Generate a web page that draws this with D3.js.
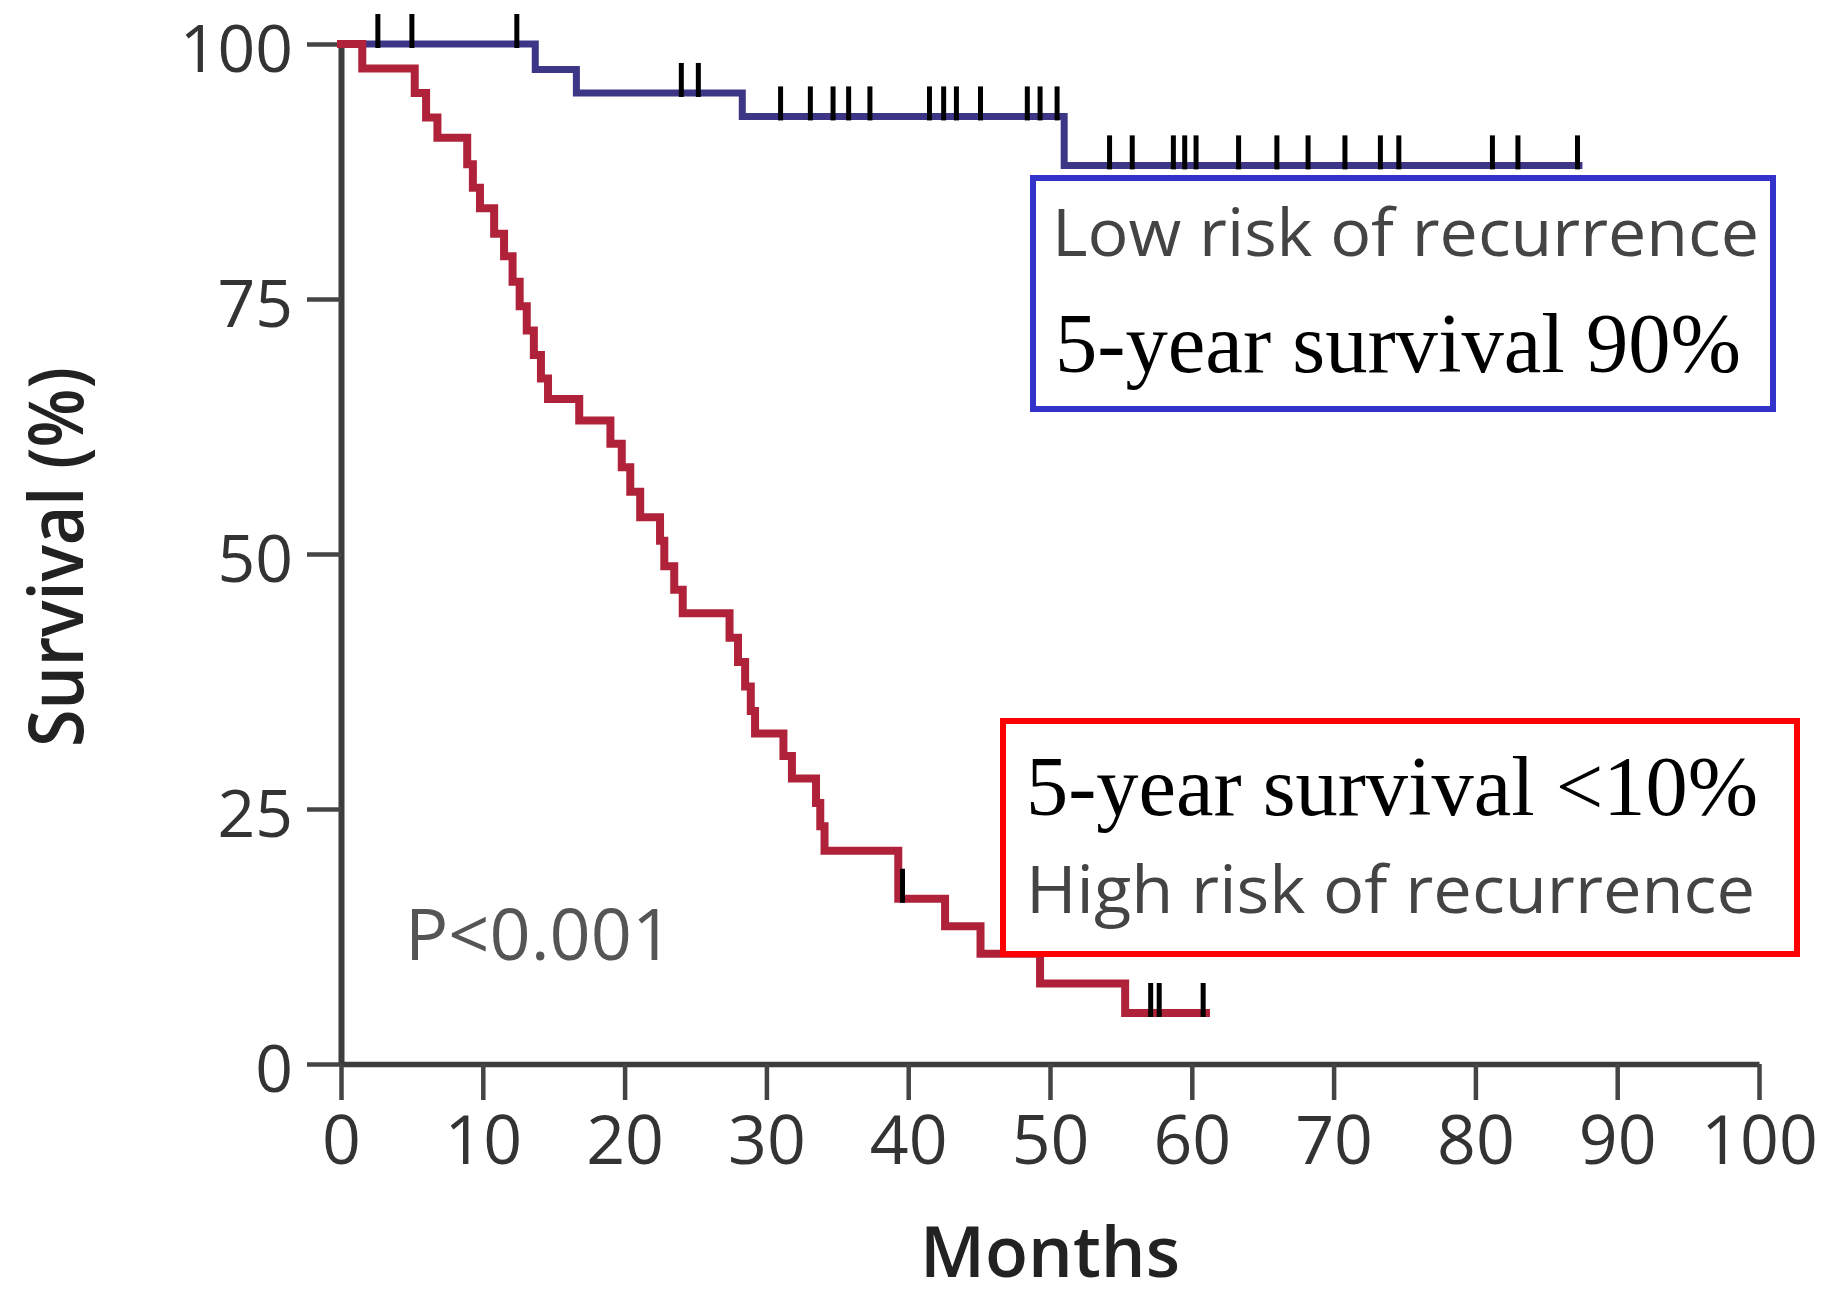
<!DOCTYPE html>
<html>
<head>
<meta charset="utf-8">
<script src="https://cdn.jsdelivr.net/npm/d3@7"></script>
<style>
  html, body { margin: 0; padding: 0; background: #ffffff; }
  svg { display: block; }
  .tick text { font-family: "Open Sans", "Noto Sans", sans-serif; fill: #333; }
</style>
</head>
<body>
<svg id="chart" width="1824" height="1298"></svg>
<script>
// Kaplan–Meier survival by recurrence risk group

// Axis tick values
const monthTicks = [0, 10, 20, 30, 40, 50, 60, 70, 80, 90, 100];
const survivalTicks = [0, 25, 50, 75, 100];

// High-risk group: [month, survival % from that month on]
const highRiskSteps = [
  [0, 100], [1.5, 97.6], [5.2, 95.2], [6.0, 92.8], [6.8, 90.8],
  [8.9, 88.2], [9.3, 85.9], [9.8, 83.9], [10.8, 81.4], [11.5, 79.2],
  [12.1, 76.7], [12.6, 74.3], [13.1, 71.9], [13.6, 69.5], [14.1, 67.2],
  [14.6, 65.2], [16.8, 63.1], [19.0, 60.8], [19.8, 58.5], [20.4, 56.1],
  [21.1, 53.6], [22.5, 51.3], [22.8, 48.8], [23.5, 46.5], [24.1, 44.2],
  [27.4, 41.8], [28.0, 39.4], [28.5, 37.0], [28.9, 34.6], [29.2, 32.4],
  [31.2, 30.2], [31.8, 28.0], [33.5, 25.6], [33.8, 23.3], [34.1, 20.9],
  [39.3, 16.2], [42.6, 13.5], [45.1, 10.8], [49.3, 7.9], [55.3, 5.0]
];
const highRiskEnd = 61.0;
const highRiskCensored = [39.6, 57.1, 57.7, 60.8];

// Low-risk group
const lowRiskSteps = [
  [0, 100], [13.7, 97.5], [16.6, 95.2], [28.3, 92.9], [51.0, 88.1]
];
const lowRiskEnd = 87.3;
const lowRiskCensored = [
  2.6, 5.0, 12.4, 24.0, 25.2, 31.0, 33.1, 34.7, 35.8, 37.3, 41.5, 42.5,
  43.4, 45.1, 48.4, 49.3, 50.5, 54.2, 55.8, 58.7, 59.5, 60.3, 63.3, 66.0,
  68.2, 70.8, 73.3, 74.6, 81.2, 83.0, 87.2
];

const svg = d3.select("#chart");

const x = d3.scaleLinear().domain([0, 100]).range([341, 1759]);
const y = d3.scaleLinear().domain([0, 100]).range([1064, 44]);

// Survival level at time t for a step series
function levelAt(steps, t) {
  let v = steps[0][1];
  for (const [m, s] of steps) { if (m <= t) v = s; }
  return v;
}

// Axes
const xAxis = d3.axisBottom(x).tickValues(monthTicks).tickSize(36).tickSizeOuter(0).tickPadding(16);
const yAxis = d3.axisLeft(y).tickValues(survivalTicks).tickSize(34).tickSizeOuter(0).tickPadding(14);

const gx = svg.append("g").attr("transform", "translate(0,1064)").call(xAxis);
gx.select(".domain").attr("stroke", "#3c3c3c").attr("stroke-width", 5.5);
gx.selectAll(".tick line").attr("stroke", "#444").attr("stroke-width", 4.5);
gx.selectAll(".tick text").attr("font-size", 68);

const gy = svg.append("g").attr("transform", "translate(341,0)").call(yAxis);
gy.select(".domain").attr("stroke", "#3c3c3c").attr("stroke-width", 6);
gy.selectAll(".tick line").attr("stroke", "#444").attr("stroke-width", 4.5);
gy.selectAll(".tick text").attr("font-size", 66).attr("dy", "0.41em");

// Axis titles
svg.append("text")
  .attr("transform", "translate(83,557) rotate(-90)")
  .attr("text-anchor", "middle")
  .attr("font-family", "'Open Sans', 'Noto Sans', sans-serif")
  .attr("font-weight", 600)
  .attr("font-size", 76)
  .attr("fill", "#222")
  .attr("textLength", 380)
  .attr("lengthAdjust", "spacingAndGlyphs")
  .text("Survival (%)");

svg.append("text")
  .attr("x", 1050).attr("y", 1277)
  .attr("text-anchor", "middle")
  .attr("font-family", "'Open Sans', 'Noto Sans', sans-serif")
  .attr("font-weight", 600)
  .attr("font-size", 70)
  .attr("fill", "#222")
  .attr("textLength", 260)
  .attr("lengthAdjust", "spacingAndGlyphs")
  .text("Months");

// Step curves
const stepLine = d3.line()
  .x(d => x(d[0]))
  .y(d => y(d[1]))
  .curve(d3.curveStepAfter);

function drawGroup(steps, end, censored, color, width) {
  const pts = steps.concat([[end, steps[steps.length - 1][1]]]);
  svg.append("path")
    .datum(pts)
    .attr("d", stepLine)
    .attr("fill", "none")
    .attr("stroke", color)
    .attr("stroke-width", width)
    .attr("stroke-linejoin", "miter")
    .attr("stroke-linecap", "square");
  svg.append("g").selectAll("line")
    .data(censored)
    .join("line")
    .attr("x1", d => x(d)).attr("x2", d => x(d))
    .attr("y1", d => y(levelAt(steps, d)) - 30)
    .attr("y2", d => y(levelAt(steps, d)) + 4)
    .attr("stroke", "#000")
    .attr("stroke-width", 5);
}

drawGroup(lowRiskSteps, lowRiskEnd, lowRiskCensored, "#3d3585", 7);
drawGroup(highRiskSteps, highRiskEnd, highRiskCensored, "#b0223a", 8);

// P value
svg.append("text")
  .attr("x", 405).attr("y", 960)
  .attr("font-family", "'Open Sans', 'Noto Sans', sans-serif")
  .attr("font-size", 72)
  .attr("fill", "#555")
  .text("P<0.001");

// Annotation boxes
svg.append("rect")
  .attr("x", 1033).attr("y", 178).attr("width", 740).attr("height", 231)
  .attr("fill", "#fff").attr("stroke", "#3333cc").attr("stroke-width", 6);

svg.append("text")
  .attr("x", 1052).attr("y", 256)
  .attr("font-family", "'Open Sans', 'Noto Sans', sans-serif")
  .attr("font-size", 66).attr("fill", "#444")
  .attr("textLength", 707).attr("lengthAdjust", "spacingAndGlyphs")
  .text("Low risk of recurrence");

svg.append("text")
  .attr("x", 1055).attr("y", 372)
  .attr("font-family", "'Liberation Serif', 'Times New Roman', serif")
  .attr("font-size", 85).attr("fill", "#000")
  .attr("textLength", 686).attr("lengthAdjust", "spacingAndGlyphs")
  .text("5-year survival 90%");

svg.append("rect")
  .attr("x", 1003).attr("y", 721).attr("width", 794).attr("height", 233)
  .attr("fill", "#fff").attr("stroke", "#ff0000").attr("stroke-width", 6);

svg.append("text")
  .attr("x", 1026).attr("y", 815)
  .attr("font-family", "'Liberation Serif', 'Times New Roman', serif")
  .attr("font-size", 85).attr("fill", "#000")
  .attr("textLength", 732).attr("lengthAdjust", "spacingAndGlyphs")
  .text("5-year survival <10%");

svg.append("text")
  .attr("x", 1026).attr("y", 913)
  .attr("font-family", "'Open Sans', 'Noto Sans', sans-serif")
  .attr("font-size", 66).attr("fill", "#444")
  .attr("textLength", 729).attr("lengthAdjust", "spacingAndGlyphs")
  .text("High risk of recurrence");
</script>
</body>
</html>
